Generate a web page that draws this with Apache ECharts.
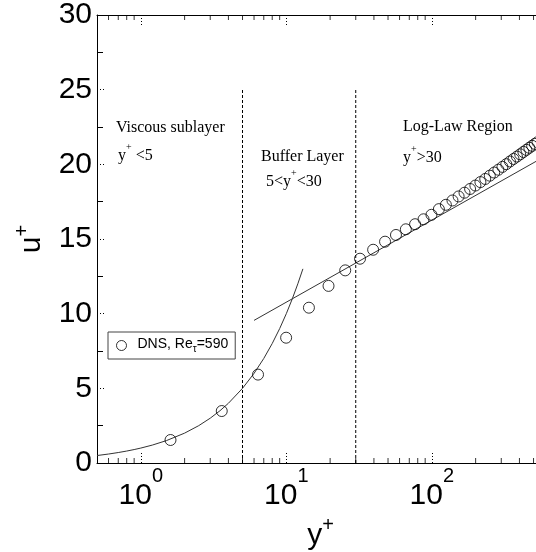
<!DOCTYPE html>
<html><head><meta charset="utf-8">
<script src="https://cdn.jsdelivr.net/npm/echarts@6/dist/echarts.min.js"></script>
<style>html,body{margin:0;padding:0;background:#fff}#c{width:536px;height:552px}</style>
</head><body><div id="c"></div>
<script>
// ---- data ----
const dnsYPlus = [1.60, 3.60, 6.39, 9.97, 14.3, 19.5, 25.4, 32.1, 39.5, 47.7, 56.7, 66.3, 76.7, 87.7, 99.4,
  111.8, 124.9, 138.6, 152.8, 167.7, 183.2, 199.2, 215.7, 232.8, 250.3, 268.3, 286.7, 305.5, 324.7,
  344.3, 364.2, 384.4, 404.9, 425.7, 446.6, 467.8, 489.1, 510.6, 532.2];
const dnsUPlus = [1.54, 3.48, 5.92, 8.39, 10.4, 11.86, 12.9, 13.68, 14.28, 14.82, 15.27, 15.65, 15.99, 16.32, 16.62,
  17.0, 17.29, 17.58, 17.85, 18.10, 18.35, 18.58, 18.81, 19.02, 19.24, 19.45, 19.64, 19.83, 20.01,
  20.19, 20.36, 20.52, 20.67, 20.83, 20.97, 21.11, 21.24, 21.37, 21.48];
const viscousYPlus = [0.5, 0.6, 0.7, 0.8, 0.9, 1, 1.2, 1.5, 2, 2.5, 3, 3.5, 4, 5, 6, 7, 8, 9, 10, 11, 12, 13];
const viscousUPlus = [0.5, 0.6, 0.7, 0.8, 0.9, 1, 1.2, 1.5, 2, 2.5, 3, 3.5, 4, 5, 6, 7, 8, 9, 10, 11, 12, 13];
const logLawYPlus = [6, 590];
const logLawUPlus = [9.55, 20.5];
const regionBoundsYPlus = [5, 30];
const regionLineUPlus = [0, 25];
const xMajorTicks = [1, 10, 100];
const xMajorExponents = ['0', '1', '2'];
const xMinorTicks = [0.6, 0.7, 0.8, 0.9, 2, 3, 4, 5, 6, 7, 8, 9, 20, 30, 40, 50, 60, 70, 80, 90, 200, 300, 400, 500];
const xMin = 0.5, xMax = 590;
const yMin = 0, yMax = 30, yStep = 5;
const legendLabel = '{a|DNS, Re}{sub|τ}{a|=590}';

// ---- build chart ----
const SANS = '"Liberation Sans", Arial, Helvetica, sans-serif';
const SERIF = '"Liberation Serif", "Times New Roman", serif';
const chart = echarts.init(document.getElementById('c'), null, {renderer: 'canvas'});

const tickRich = {
  b: {fontSize: 30, fontFamily: SANS, color: '#000', verticalAlign: 'bottom', padding: [15, 0, 0, 0]},
  s: {fontSize: 20, fontFamily: SANS, color: '#000', verticalAlign: 'top'}
};
const nameRich = {
  b: {fontSize: 30, fontFamily: SANS, color: '#000', verticalAlign: 'bottom', padding: [5, 0, 0, 0]},
  s: {fontSize: 20, fontFamily: SANS, color: '#000', verticalAlign: 'top'}
};
const noteRich = {
  b: {fontSize: 16, fontFamily: SERIF, color: '#000', verticalAlign: 'bottom', padding: [5, 0, 0, 0]},
  s: {fontSize: 10, fontFamily: SERIF, color: '#000', verticalAlign: 'top'}
};

const dotted = {color: '#000', width: 1, type: [1, 2]};

function zip(a, b) { return a.map((v, i) => [v, b[i]]); }

const option = {
  animation: false,
  backgroundColor: '#fff',
  grid: {left: 97, right: -8, top: 15, bottom: 89, containLabel: false, outerBoundsMode: 'none'},
  xAxis: [{
    type: 'log', logBase: 10, min: xMin, max: xMax, position: 'bottom',
    axisLine: {show: true, onZero: false, lineStyle: {color: '#000', width: 1}},
    axisTick: {show: true, inside: true, length: 10, lineStyle: dotted},
    splitLine: {show: false},
    axisLabel: {
      margin: 3, color: '#000', fontFamily: SANS, fontSize: 30,
      formatter: function (v) {
        const i = xMajorTicks.findIndex(t => Math.abs(t - v) / t < 1e-6);
        return i < 0 ? '' : '{b|10}{s|' + xMajorExponents[i] + '}';
      },
      rich: tickRich
    },
    name: '{b|y}{s|+}', nameLocation: 'middle', nameGap: 47,
    nameTextStyle: {rich: nameRich}
  }, {
    type: 'log', logBase: 10, min: xMin, max: xMax, position: 'top',
    axisLine: {show: true, onZero: false, lineStyle: {color: '#000', width: 1}},
    axisTick: {show: true, inside: true, length: 10, lineStyle: dotted},
    splitLine: {show: false}, axisLabel: {show: false}
  }],
  yAxis: [{
    type: 'value', min: yMin, max: yMax, interval: yStep, position: 'left',
    axisLine: {show: true, onZero: false, lineStyle: {color: '#000', width: 1}},
    axisTick: {show: true, inside: true, length: 7, lineStyle: dotted},
    minorTick: {show: true, splitNumber: 2, length: 6, lineStyle: {color: '#000', width: 1}},
    splitLine: {show: false}, minorSplitLine: {show: false},
    axisLabel: {margin: 5, color: '#000', fontFamily: SANS, fontSize: 30},
    name: '{b|u}{s|+}', nameLocation: 'middle', nameGap: 50, nameRotate: 90,
    nameTextStyle: {rich: nameRich}
  }, {
    type: 'value', min: yMin, max: yMax, interval: yStep, position: 'right',
    axisLine: {show: true, onZero: false, lineStyle: {color: '#000', width: 1}},
    axisTick: {show: true, inside: true, length: 9, lineStyle: dotted},
    minorTick: {show: true, splitNumber: 2, length: 6, lineStyle: {color: '#000', width: 1}},
    splitLine: {show: false}, minorSplitLine: {show: false},
    axisLabel: {show: false}
  }],
  legend: {
    left: 108, top: 332, orient: 'vertical',
    backgroundColor: '#fff', borderColor: '#444', borderWidth: 1, borderRadius: 0,
    padding: [5, 7, 5, 8], itemWidth: 22, itemHeight: 10,
    data: [{name: 'DNS', icon: 'circle', itemStyle: {color: 'rgba(0,0,0,0)', borderColor: '#000', borderWidth: 1}}],
    formatter: function () { return legendLabel; },
    textStyle: {
      color: '#000', fontFamily: SANS, fontSize: 14,
      rich: {
        a: {fontSize: 14, fontFamily: SANS, color: '#000', verticalAlign: 'top'},
        sub: {fontSize: 10, fontFamily: SANS, color: '#000', verticalAlign: 'top', padding: [7, 0, 0, 0]}
      }
    }
  },
  series: [
    {
      name: 'viscous', type: 'line', data: zip(viscousYPlus, viscousUPlus), showSymbol: false, symbol: 'none',
      lineStyle: {color: '#333', width: 1}, silent: true
    },
    {
      name: 'loglaw', type: 'line', data: zip(logLawYPlus, logLawUPlus), showSymbol: false, symbol: 'none',
      lineStyle: {color: '#333', width: 1}, silent: true
    },
    ...regionBoundsYPlus.map(x => ({
      name: 'bound' + x, type: 'line', data: regionLineUPlus.map(u => [x, u]), symbol: 'none',
      lineStyle: {color: '#000', width: 1, type: [3, 2]}, silent: true
    })),
    {
      name: 'DNS', type: 'scatter', data: zip(dnsYPlus, dnsUPlus), symbol: 'circle', symbolSize: 11, clip: false,
      itemStyle: {color: 'rgba(0,0,0,0)', borderColor: '#000', borderWidth: 1}, z: 5
    },
    {
      name: 'minorBottom', type: 'scatter', data: xMinorTicks.map(x => [x, yMin]), symbol: 'rect',
      symbolSize: [1, 5], symbolOffset: [0, -2.5], clip: false, itemStyle: {color: '#000'}, silent: true
    },
    {
      name: 'minorTop', type: 'scatter', data: xMinorTicks.map(x => [x, yMax]), symbol: 'rect',
      symbolSize: [1, 5], symbolOffset: [0, 2.5], clip: false, itemStyle: {color: '#000'}, silent: true
    }
  ],
  graphic: [
    {type: 'text', x: 116, y: 128, style: {text: 'Viscous sublayer', fontFamily: SERIF, fontSize: 16, fill: '#000', verticalAlign: 'middle'}},
    {type: 'text', x: 118, y: 153, style: {text: '{b|y}{s|+}{b| <5}', verticalAlign: 'middle', rich: noteRich}},
    {type: 'text', x: 261, y: 157, style: {text: 'Buffer Layer', fontFamily: SERIF, fontSize: 16, fill: '#000', verticalAlign: 'middle'}},
    {type: 'text', x: 266, y: 179, style: {text: '{b|5<y}{s|+}{b|<30}', verticalAlign: 'middle', rich: noteRich}},
    {type: 'text', x: 403, y: 127, style: {text: 'Log-Law Region', fontFamily: SERIF, fontSize: 16, fill: '#000', verticalAlign: 'middle'}},
    {type: 'text', x: 403, y: 155, style: {text: '{b|y}{s|+}{b|>30}', verticalAlign: 'middle', rich: noteRich}}
  ]
};
chart.setOption(option);
</script>
</body></html>
